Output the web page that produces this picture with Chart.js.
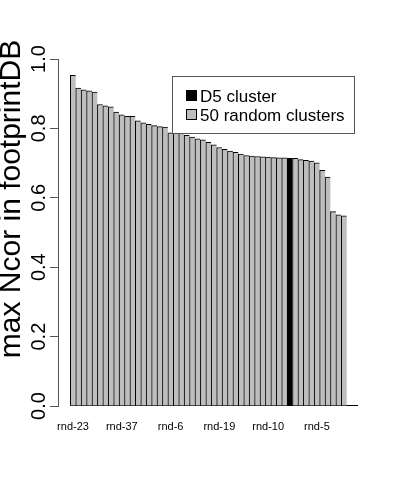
<!DOCTYPE html>
<html><head><meta charset="utf-8">
<script src="https://cdn.jsdelivr.net/npm/chart.js@4/dist/chart.umd.min.js"></script>
<style>html,body{margin:0;padding:0;background:#fff}#wrap{width:400px;height:480px}</style>
</head><body><div id="wrap"><canvas id="c" width="400" height="480"></canvas></div>
<script>
// Bar names (only the ones printed under the axis are readable; others left blank)
const categories = [
  'rnd-23','','','','','','','','',
  'rnd-37','','','','','','','','',
  'rnd-6','','','','','','','','',
  'rnd-19','','','','','','','','',
  'rnd-10','','','','','','','','',
  'rnd-5','','','','',''
];
const values = [
  0.953,0.916,0.911,0.908,0.905,0.869,0.865,0.862,0.847,0.839,
  0.835,0.835,0.822,0.816,0.812,0.808,0.805,0.804,0.787,0.786,
  0.786,0.780,0.775,0.770,0.767,0.760,0.753,0.745,0.740,0.735,
  0.731,0.726,0.722,0.720,0.719,0.718,0.717,0.716,0.715,0.715,
  0.714,0.714,0.710,0.708,0.706,0.701,0.679,0.660,0.560,0.551,
  0.548
];
const d5Index = 40;
const seriesNames = ['D5 cluster','50 random clusters'];
const seriesColors = ['#000000','#BEBEBE'];
const yTicks = [0.0,0.2,0.4,0.6,0.8,1.0];
const yTitle = 'max Ncor in footprintDB';
const FONT = 'Liberation Sans';

const extras = {
  id:'extras',
  beforeDatasetsDraw(chart){
    const {ctx, scales:{x,y}, chartArea} = chart;
    ctx.save();
    ctx.strokeStyle = '#000'; ctx.lineWidth = 1;
    const yy = Math.round(y.getPixelForValue(0)) - 0.5;
    ctx.beginPath();
    ctx.moveTo(x.getPixelForValue(-0.5), yy);
    ctx.lineTo(chartArea.right, yy);
    ctx.stroke();
    ctx.restore();
  },
  afterDatasetsDraw(chart){
    const {ctx} = chart;
    ctx.save();
    // legend box
    ctx.fillStyle = '#fff';
    ctx.fillRect(172,76,183,58);
    ctx.strokeStyle = '#555'; ctx.lineWidth = 1;
    ctx.strokeRect(172.5,76.5,182,57);
    const rows = [96, 115];
    seriesNames.forEach((n,i)=>{
      ctx.fillStyle = seriesColors[i];
      ctx.fillRect(186,rows[i]-6,11,11);
      ctx.strokeStyle = '#000';
      ctx.strokeRect(186.5,rows[i]-5.5,10,10);
      ctx.fillStyle = '#000';
      ctx.font = '17px "' + FONT + '"';
      ctx.textAlign = 'left'; ctx.textBaseline = 'alphabetic';
      ctx.fillText(n, 200, rows[i]+6);
    });
    // y title
    ctx.translate(11.5, 199);
    ctx.rotate(-Math.PI/2);
    ctx.font = '30px "' + FONT + '"';
    ctx.textAlign = 'center'; ctx.textBaseline = 'middle';
    ctx.fillStyle = '#000';
    ctx.fillText(yTitle, 0, 0);
    ctx.restore();
  }
};

new Chart(document.getElementById('c'), {
  type:'bar',
  data:{
    datasets:[{
      label: seriesNames[1],
      data: values.map((v,i)=>({x:i,y:v})),
      backgroundColor: values.map((v,i)=> i===d5Index ? seriesColors[0] : seriesColors[1]),
      borderColor:'#000',
      borderWidth:{top:1,left:1,right:0,bottom:0},
      borderSkipped:false,
      categoryPercentage:1,
      barPercentage:1
    }]
  },
  options:{
    responsive:false,
    animation:false,
    devicePixelRatio:1,
    layout:{padding:{top:59,right:42,bottom:0,left:0}},
    plugins:{legend:{display:false},tooltip:{enabled:false}},
    scales:{
      x:{
        type:'linear', min:-2.77, max:52.58, offset:false,
        grid:{display:false, drawTicks:false},
        border:{display:false},
        afterBuildTicks:(s)=>{ s.ticks = categories.map((c,i)=>c?{value:i}:null).filter(Boolean); },
        ticks:{autoSkip:false, minRotation:0, maxRotation:0, color:'#000',
          font:{family:FONT,size:11}, padding:14,
          callback:(v)=>categories[v]},
        afterFit:(s)=>{ s.height = 74; }
      },
      y:{
        min:0, max:1,
        afterBuildTicks:(s)=>{ s.ticks = yTicks.map(v=>({value:v})); },
        ticks:{color:'#000', font:{family:FONT,size:20}, minRotation:90, maxRotation:90,
          crossAlign:'center', padding:-3, callback:(v)=>Number(v).toFixed(1)},
        grid:{display:true, drawOnChartArea:false, drawTicks:true, tickLength:8, color:'#555'},
        border:{display:true, color:'#555', width:1},
        afterFit:(s)=>{ s.width = 58; }
      }
    }
  },
  plugins:[extras]
});
</script>
</body></html>
